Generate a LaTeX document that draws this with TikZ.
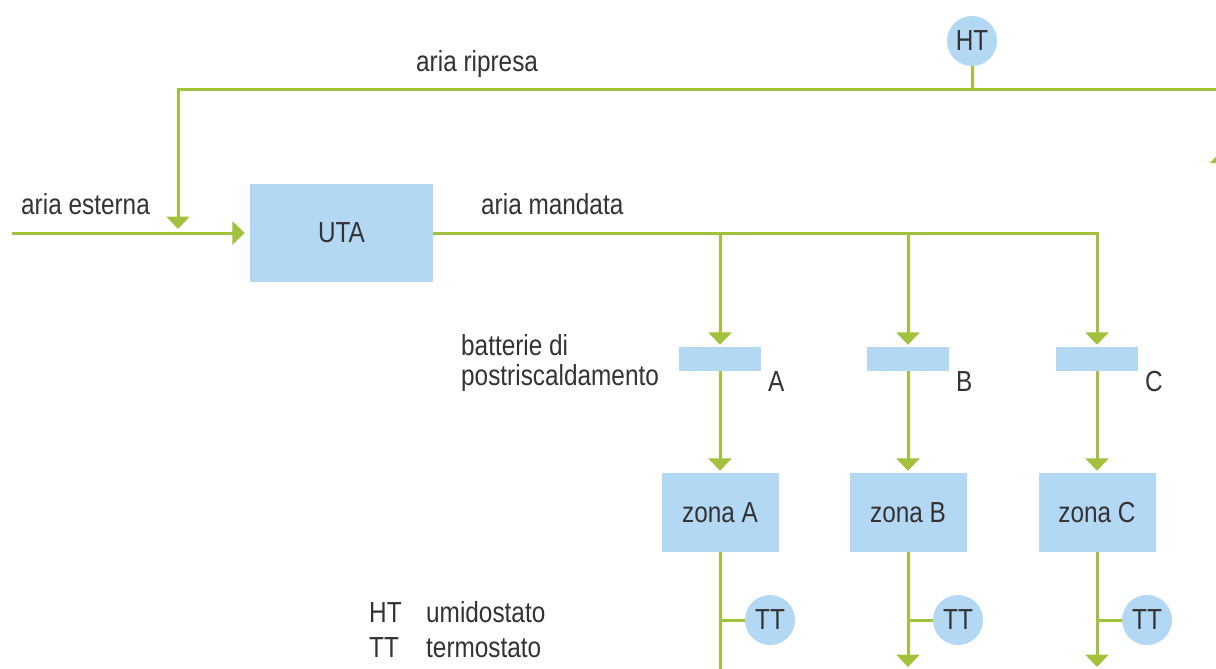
\documentclass[tikz,border=0pt]{standalone}
\usepackage{fontspec}
\setmainfont{Liberation Sans}[FakeStretch=0.84]
\usetikzlibrary{arrows.meta}
\definecolor{lgreen}{HTML}{A2C13C}
\definecolor{lblue}{HTML}{B3D8F4}
\definecolor{txt}{HTML}{333333}
\tikzset{
  flow/.style={draw=lgreen, line width=3pt},
  arr/.style={flow, -{Triangle[width=23pt,length=12.5pt]}, shorten >=2pt},
  box/.style={fill=lblue, draw=none, inner sep=0pt, text=txt},
  sensor/.style={circle, fill=lblue, draw=none, minimum size=50pt, inner sep=0pt, text=txt},
  lbl/.style={text=txt, inner sep=0pt, anchor=base west},
}
\begin{document}
\begin{tikzpicture}[x=1pt,y=-1pt,font=\fontsize{29}{31}\selectfont]
\clip (0,0) rectangle (1216,669);
\fill[white] (0,0) rectangle (1216,669);
% nodes
\node[sensor] (ht) at (972,41) {HT};
\node[box, minimum width=183pt, minimum height=98pt] (uta) at (341.5,233) {UTA};
\foreach \n/\x in {a/720, b/908, c/1097}{
  \node[box, minimum width=82pt, minimum height=24pt] (h\n) at (\x,359) {};
  \node[box, minimum width=117pt, minimum height=79pt] (z\n) at (\x,512.5) {};
  \node[sensor] (tt\n) at (\x+50,620) {TT};
}
\node[text=txt] at (za) {zona A};
\node[text=txt] at (zb) {zona B};
\node[text=txt] at (zc) {zona C};
% coordinates
\coordinate (ripR) at (1216,90);
\coordinate (ripL) at (178,90);
\coordinate (mix) at (178,229);
\coordinate (est) at (12,233);
\coordinate (enda) at (720,672);
\coordinate (endb) at (908,669);
\coordinate (endc) at (1097,669);
% connectors
\draw[flow] (ht.south) -- (ht.south |- ripR);
\draw[arr, shorten >=0pt] (ripR) -- (ripL) -- (mix);
\draw[arr, shorten >=5pt] (est) -- (uta.west);
\draw[arr] (uta.east) -| (hc.north);
\draw[arr] (ha.north |- uta.east) -- (ha.north);
\draw[arr] (hb.north |- uta.east) -- (hb.north);
\foreach \n in {a,b,c}{
  \draw[arr] (h\n.south) -- (z\n.north);
  \draw[flow] (tt\n.west) -- (tt\n.west -| z\n.south);
}
\draw[flow] (za.south) -- (enda);
\draw[arr] (zb.south) -- (endb);
\draw[arr] (zc.south) -- (endc);
% partial arrow at right edge
\fill[lgreen] (1210,163) -- (1232,163) -- (1221,151) -- cycle;
% labels
\node[lbl] (t1) at (416,72) {aria ripresa};
\node[lbl] (t2) at (21,214) {aria esterna};
\node[lbl] (t3) at (481,214) {aria mandata};
\node[lbl] (t4) at (461,355) {batterie di};
\node[lbl] (t5) at (461,385) {postriscaldamento};
\node[lbl] (la) at (768,391) {A};
\node[lbl] (lb) at (956,391) {B};
\node[lbl] (lc) at (1145,391) {C};
\node[lbl] (k1) at (369,622) {HT};
\node[lbl] (k2) at (426,622) {umidostato};
\node[lbl] (k3) at (369,657) {TT};
\node[lbl] (k4) at (426,657) {termostato};
\end{tikzpicture}
\end{document}
